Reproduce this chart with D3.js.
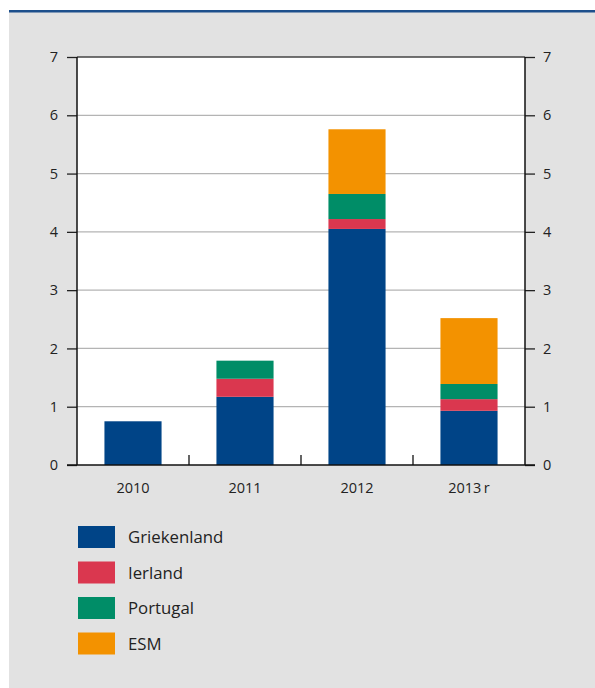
<!DOCTYPE html>
<html>
<head>
<meta charset="utf-8">
<script src="https://cdn.jsdelivr.net/npm/d3@7"></script>
<style>
  html, body { margin: 0; padding: 0; background: #fff; }
  svg { display: block; }
  text { font-family: "Open Sans", "Noto Sans", sans-serif; fill: #222; }
</style>
</head>
<body>
<svg id="chart" width="595" height="688"></svg>
<script>
// Stacked amounts per year (billions)
const years = ["2010", "2011", "2012", "2013\u2009r"];
const griekenland = [0.75, 1.17, 4.05, 0.93];
const ierland     = [0.00, 0.31, 0.17, 0.20];
const portugal    = [0.00, 0.31, 0.43, 0.26];
const esm         = [0.00, 0.00, 1.11, 1.13];
const seriesNames = ["Griekenland", "Ierland", "Portugal", "ESM"];
const seriesColors = ["#004487", "#da374f", "#008d67", "#f39200"];
const yTicks = [0, 1, 2, 3, 4, 5, 6, 7];

const rows = years.map((y, i) => ({
  year: y,
  Griekenland: griekenland[i],
  Ierland: ierland[i],
  Portugal: portugal[i],
  ESM: esm[i]
}));

const svg = d3.select("#chart");

// Panel background and top rule
svg.append("rect").attr("x", 9).attr("y", 11).attr("width", 586).attr("height", 677).attr("fill", "#e2e2e2");
svg.append("rect").attr("x", 9).attr("y", 10).attr("width", 586).attr("height", 2.5).attr("fill", "#1d4f8c");

const plotLeft = 77, plotRight = 525, plotTop = 57, plotBottom = 465;

const x = d3.scaleBand().domain(years).range([plotLeft, plotRight]).paddingInner(0.49).paddingOuter(0.245);
const y = d3.scaleLinear().domain([0, 7]).range([plotBottom, plotTop]);

// Plot area
svg.append("rect").attr("x", plotLeft).attr("y", plotTop)
  .attr("width", plotRight - plotLeft).attr("height", plotBottom - plotTop).attr("fill", "#fff");

// Gridlines
svg.append("g").selectAll("line").data(yTicks.filter(d => d > 0 && d < 7)).join("line")
  .attr("x1", plotLeft).attr("x2", plotRight)
  .attr("y1", d => y(d)).attr("y2", d => y(d))
  .attr("stroke", "#b4b4b4").attr("stroke-width", 1.2);

// Stacked bars
const stack = d3.stack().keys(seriesNames)(rows);
const color = d3.scaleOrdinal().domain(seriesNames).range(seriesColors);
svg.append("g").selectAll("g").data(stack).join("g")
  .attr("fill", d => color(d.key))
  .selectAll("rect").data(d => d.filter(s => s[1] - s[0] > 0)).join("rect")
  .attr("x", d => x(d.data.year))
  .attr("width", x.bandwidth())
  .attr("y", d => y(d[1]))
  .attr("height", d => y(d[0]) - y(d[1]));

// Top frame line
svg.append("line").attr("x1", plotLeft).attr("x2", plotRight).attr("y1", plotTop).attr("y2", plotTop)
  .attr("stroke", "#444").attr("stroke-width", 1.3);

// Y axes on both sides
const yLeft = d3.axisLeft(y).tickValues(yTicks).tickSize(10).tickPadding(9).tickFormat(d3.format("d"));
const yRight = d3.axisRight(y).tickValues(yTicks).tickSize(10).tickPadding(8).tickFormat(d3.format("d"));

function styleAxis(g) {
  g.select(".domain").remove();
  g.selectAll(".tick line").attr("stroke", "#222").attr("stroke-width", 1.3);
  g.selectAll(".tick text").attr("font-size", 14.5).attr("fill", "#333")
    .style("font-family", "'Open Sans', 'Noto Sans', sans-serif");
}
svg.append("g").attr("transform", `translate(${plotLeft},0)`).call(yLeft).call(styleAxis);
svg.append("g").attr("transform", `translate(${plotRight},0)`).call(yRight).call(styleAxis);

svg.append("line").attr("x1", plotLeft).attr("x2", plotLeft).attr("y1", plotTop).attr("y2", plotBottom)
  .attr("stroke", "#111").attr("stroke-width", 1.5);
svg.append("line").attr("x1", plotRight).attr("x2", plotRight).attr("y1", plotTop).attr("y2", plotBottom)
  .attr("stroke", "#111").attr("stroke-width", 1.5);

// X axis baseline and category separators
svg.append("line").attr("x1", plotLeft - 10).attr("x2", plotRight + 10).attr("y1", plotBottom).attr("y2", plotBottom)
  .attr("stroke", "#111").attr("stroke-width", 1.5);
const gap = x.step() - x.bandwidth();
const separators = years.slice(1).map(yr => x(yr) - gap / 2);
svg.append("g").selectAll("line").data(separators).join("line")
  .attr("x1", d => d).attr("x2", d => d)
  .attr("y1", plotBottom).attr("y2", plotBottom - 10)
  .attr("stroke", "#111").attr("stroke-width", 1.3);

// Year labels
svg.append("g").selectAll("text").data(years).join("text")
  .attr("x", d => x(d) + x.bandwidth() / 2)
  .attr("y", 493)
  .attr("text-anchor", "middle")
  .attr("font-size", 14.5)
  .attr("fill", "#333")
  .text(d => d);

// Legend
const legend = svg.append("g").selectAll("g").data(seriesNames).join("g")
  .attr("transform", (d, i) => `translate(78,${526 + i * 35.5})`);
legend.append("rect").attr("width", 37).attr("height", 22).attr("fill", d => color(d));
legend.append("text").attr("x", 50).attr("y", 17).attr("font-size", 16.8).attr("fill", "#333").text(d => d);
</script>
</body>
</html>
